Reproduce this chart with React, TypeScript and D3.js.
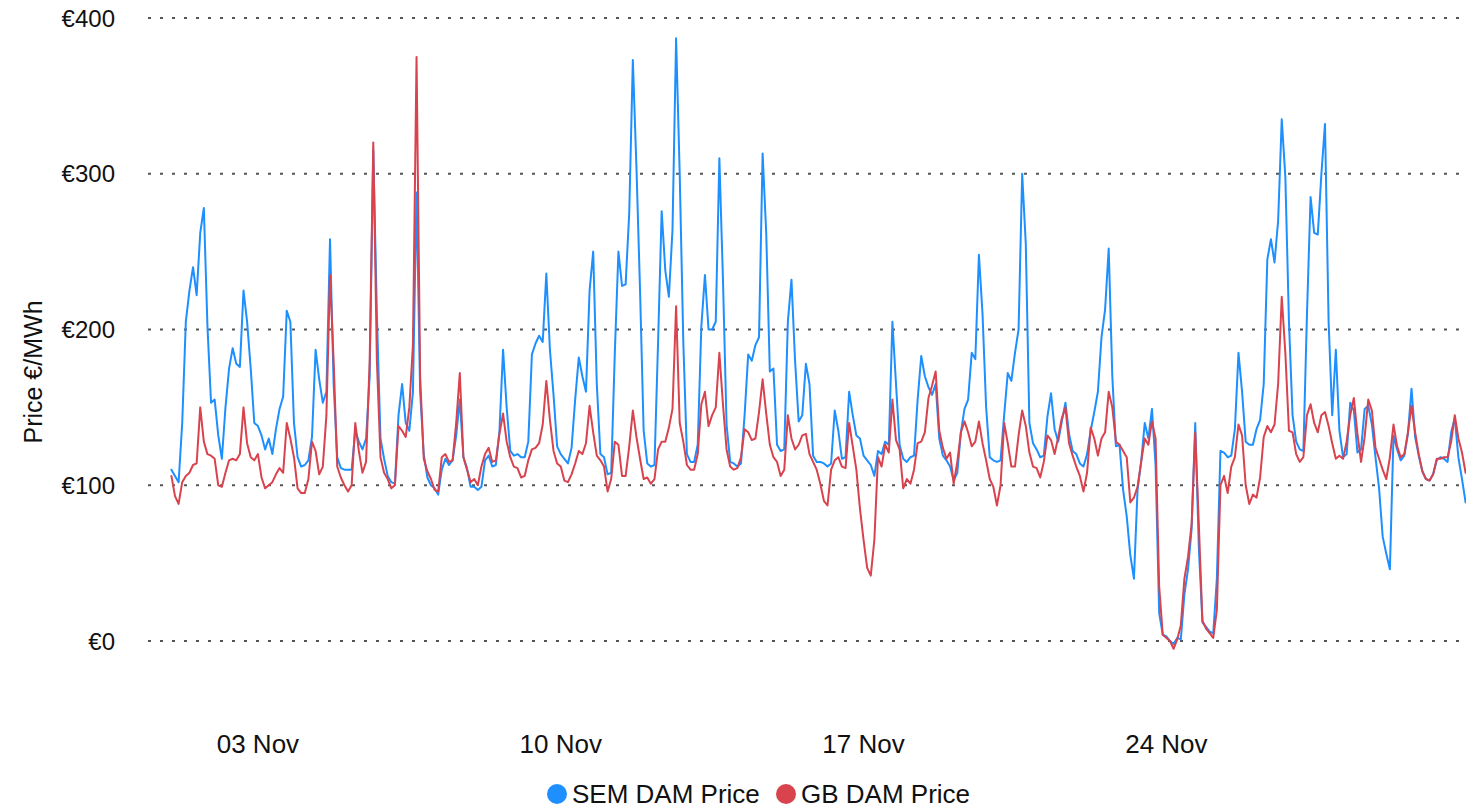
import React from "react";
import * as d3 from "d3";

// Hourly day-ahead prices sampled every 2 hours, 1–30 Nov (12 values per day).
const START = "2022-11-01T00:00:00Z";
const STEP_HOURS = 2;

const SEM_DAM: number[] = [
  110, 106, 102, 140, 205, 225, 240, 222, 262, 278, 202, 153,
  155, 132, 117, 150, 175, 188, 178, 176, 225, 205, 175, 140,
  138, 132, 123, 130, 120, 136, 149, 157, 212, 205, 140, 118,
  112, 113, 116, 131, 187, 168, 153, 160, 258, 165, 118, 111,
  110, 110, 110, 135, 128, 123, 130, 170, 315, 210, 130, 117,
  106, 102, 101, 145, 165, 140, 135, 160, 288, 160, 120, 105,
  100, 98, 94, 110, 117, 113, 116, 132, 155, 118, 111, 99,
  99, 97, 99, 116, 119, 112, 113, 135, 187, 150, 122, 119,
  120, 118, 118, 128, 184, 191, 196, 192, 236, 187, 158, 125,
  120, 117, 114, 124, 155, 182, 170, 160, 225, 250, 165, 120,
  118, 107, 108, 185, 250, 228, 229, 275, 373, 304, 225, 135,
  114, 112, 113, 192, 276, 238, 221, 264, 387, 300, 192, 120,
  115, 115, 126, 202, 235, 200, 200, 205, 310, 232, 139, 115,
  114, 112, 114, 145, 184, 180, 190, 195, 313, 262, 173, 175,
  126, 122, 123, 205, 232, 180, 141, 145, 178, 165, 119, 115,
  115, 114, 112, 114, 148, 135, 117, 118, 160, 145, 132, 130,
  119, 116, 113, 106, 122, 120, 128, 126, 205, 165, 126, 117,
  115, 118, 119, 155, 183, 170, 163, 158, 165, 130, 119, 116,
  112, 103, 108, 134, 149, 155, 185, 181, 248, 210, 150, 118,
  116, 115, 116, 145, 172, 167, 185, 200, 300, 255, 140, 127,
  123, 118, 119, 144, 159, 136, 128, 141, 153, 133, 122, 120,
  114, 112, 120, 135, 147, 160, 195, 213, 252, 170, 125, 126,
  97, 80, 55, 40, 97, 115, 140, 130, 149, 113, 18, 4,
  3, 0, -2, 2, 1, 30, 46, 72, 140, 60, 12, 9,
  6, 5, 40, 122, 121, 118, 119, 136, 185, 160, 128, 126,
  126, 136, 142, 165, 245, 258, 243, 270, 335, 298, 205, 145,
  128, 123, 122, 210, 285, 262, 261, 300, 332, 205, 145, 187,
  135, 118, 120, 153, 148, 121, 123, 149, 151, 139, 118, 98,
  67, 56, 46, 132, 123, 116, 119, 133, 162, 131, 119, 109,
  104, 103, 107, 116, 118, 117, 115, 134, 143, 118, 104, 89,
];

const GB_DAM: number[] = [
  106, 93, 88, 102, 106, 108, 113, 114, 150, 128, 120, 119,
  117, 100, 99, 108, 116, 117, 116, 120, 150, 127, 118, 116,
  120, 105, 98, 100, 102, 107, 111, 108, 140, 130, 118, 98,
  95, 95, 104, 128, 122, 107, 112, 145, 235, 180, 112, 105,
  100, 96, 100, 140, 122, 108, 115, 180, 320, 180, 118, 108,
  104, 98, 100, 138, 135, 131, 150, 190, 375, 170, 117, 109,
  104, 97, 96, 118, 120, 115, 116, 140, 172, 118, 110, 102,
  104, 100, 112, 120, 124, 115, 116, 133, 146, 128, 118, 112,
  111, 105, 106, 116, 123, 124, 127, 139, 167, 142, 122, 114,
  112, 103, 102, 107, 114, 122, 120, 127, 151, 134, 119, 116,
  112, 96, 104, 128, 126, 106, 106, 125, 148, 131, 117, 104,
  105, 101, 104, 123, 128, 128, 137, 149, 215, 140, 128, 113,
  110, 110, 120, 152, 160, 138, 145, 150, 185, 152, 123, 112,
  110, 111, 118, 136, 134, 129, 130, 147, 168, 146, 126, 118,
  115, 106, 110, 145, 130, 123, 126, 132, 133, 120, 115, 110,
  101, 90, 87, 110, 116, 118, 112, 111, 140, 125, 110, 85,
  65, 47, 42, 65, 118, 112, 126, 121, 155, 129, 123, 98,
  104, 101, 110, 127, 128, 134, 156, 164, 173, 135, 124, 117,
  121, 101, 115, 134, 141, 134, 125, 128, 141, 127, 116, 104,
  99, 87, 100, 140, 127, 112, 112, 132, 148, 138, 121, 112,
  111, 105, 115, 132, 129, 120, 131, 143, 150, 127, 119, 112,
  106, 96, 108, 137, 130, 119, 130, 134, 160, 150, 128, 126,
  122, 118, 89, 92, 99, 115, 130, 126, 141, 130, 35, 4,
  2, 0, -5, 1, 10, 40, 54, 75, 134, 75, 13, 8,
  5, 2, 20, 100, 106, 95, 112, 118, 139, 132, 100, 88,
  94, 92, 105, 131, 138, 134, 139, 165, 221, 185, 135, 134,
  120, 115, 118, 145, 152, 140, 134, 145, 147, 138, 127, 117,
  119, 117, 128, 145, 156, 133, 115, 131, 155, 148, 124, 117,
  110, 104, 118, 139, 125, 118, 120, 134, 151, 134, 120, 109,
  104, 103, 107, 117, 117, 118, 118, 128, 145, 130, 121, 108,
];

const Y_TICKS: number[] = [0, 100, 200, 300, 400];
const X_TICKS: string[] = ["2022-11-03", "2022-11-10", "2022-11-17", "2022-11-24"];
const SERIES_NAMES: string[] = ["SEM DAM Price", "GB DAM Price"];
const SERIES_COLORS: string[] = ["#1e8fff", "#d8434e"];

const W = 1466;
const H = 809;
const FONT = "'Liberation Sans', Arial, Helvetica, sans-serif";
const TEXT = "#111";

export default function App() {
  const t0 = new Date(START);
  const tEnd = d3.utcHour.offset(t0, 719);
  const x = d3.scaleUtc().domain([t0, tEnd]).range([171.4, 1467.4]);
  const y = d3.scaleLinear().domain([0, 400]).range([641, 18]);

  const line = d3
    .line<number>()
    .x((_, i) => x(d3.utcHour.offset(t0, i * STEP_HOURS)))
    .y((d) => y(d));

  const series = [SEM_DAM, GB_DAM].map((values, i) => ({
    name: SERIES_NAMES[i],
    color: SERIES_COLORS[i],
    values,
  }));

  const fmt = d3.utcFormat("%d %b");
  const legendX = [557, 786];

  return (
    <svg
      width={W}
      height={H}
      viewBox={`0 0 ${W} ${H}`}
      style={{ position: "fixed", left: 0, top: 0, background: "#fff" }}
      fontFamily={FONT}
    >
      {/* dotted horizontal gridlines */}
      <g>
        {Y_TICKS.map((v) => (
          <line
            key={v}
            x1={148}
            x2={1466}
            y1={y(v)}
            y2={y(v)}
            stroke="#555"
            strokeWidth={2}
            strokeDasharray="3 9"
          />
        ))}
      </g>

      {/* y-axis labels */}
      <g fontSize={24} fill={TEXT} textAnchor="end">
        {Y_TICKS.map((v) => (
          <text key={v} x={115} y={y(v)} dominantBaseline="central">
            {`€${v}`}
          </text>
        ))}
      </g>
      <text
        transform="translate(33,372) rotate(-90)"
        textAnchor="middle"
        dominantBaseline="central"
        fontSize={25}
        fill={TEXT}
      >
        Price €/MWh
      </text>

      {/* x-axis labels */}
      <g fontSize={26} fill={TEXT} textAnchor="middle">
        {X_TICKS.map((d) => {
          const dt = new Date(d + "T00:00:00Z");
          return (
            <text key={d} x={x(dt)} y={744} dominantBaseline="central">
              {fmt(dt)}
            </text>
          );
        })}
      </g>

      {/* price lines */}
      <g fill="none" strokeWidth={2} strokeLinejoin="round" strokeLinecap="round">
        {series.map((s) => (
          <path key={s.name} d={line(s.values) || ""} stroke={s.color} />
        ))}
      </g>

      {/* legend */}
      <g fontSize={26} fill={TEXT}>
        {series.map((s, i) => (
          <g key={s.name} transform={`translate(${legendX[i]},794)`}>
            <circle r={10} fill={s.color} />
            <text x={15} dominantBaseline="central">
              {s.name}
            </text>
          </g>
        ))}
      </g>
    </svg>
  );
}
